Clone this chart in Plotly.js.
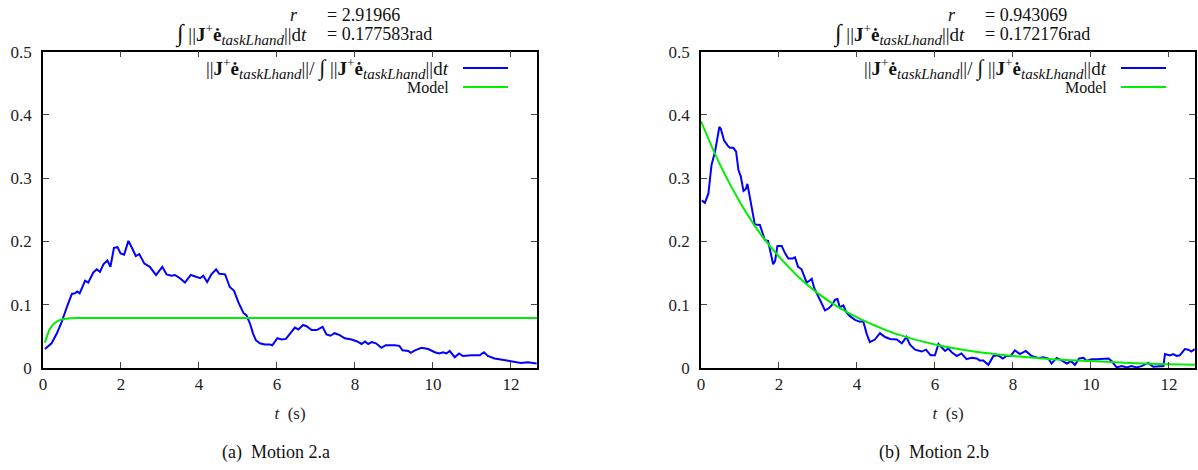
<!DOCTYPE html>
<html>
<head>
<meta charset="utf-8">
<script src="https://cdn.plot.ly/plotly-3.0.1.min.js"></script>
</head>
<body style="margin:0;background:#fff">
<div id="chart" style="width:1198px;height:470px"></div>
<script>
// ---- Data: Motion 2.a ----
const tA = [0.05,0.09,0.22,0.35,0.48,0.61,0.74,0.82,0.88,0.94,1.08,1.16,1.29,1.38,1.46,1.55,1.65,1.73,1.82,1.91,1.99,2.08,2.19,2.28,2.38,2.47,2.60,2.74,2.90,3.06,3.17,3.30,3.38,3.49,3.64,3.79,3.90,4.03,4.11,4.21,4.32,4.44,4.52,4.67,4.79,4.90,5.01,5.14,5.22,5.31,5.39,5.46,5.56,5.69,5.82,5.88,6.01,6.12,6.23,6.33,6.46,6.55,6.67,6.76,6.89,7.02,7.17,7.27,7.37,7.48,7.61,7.74,7.91,8.06,8.17,8.26,8.34,8.43,8.54,8.68,8.79,9.02,9.14,9.22,9.37,9.43,9.54,9.71,9.88,10.05,10.16,10.26,10.35,10.43,10.56,10.67,10.77,10.99,11.20,11.31,11.41,11.58,11.75,11.92,12.00,12.13,12.26,12.43,12.57,12.66];
const vA = [0.030,0.032,0.039,0.054,0.073,0.096,0.117,0.118,0.121,0.118,0.138,0.135,0.151,0.156,0.152,0.164,0.170,0.160,0.190,0.191,0.181,0.179,0.201,0.190,0.177,0.180,0.165,0.160,0.147,0.160,0.148,0.146,0.147,0.143,0.135,0.147,0.145,0.142,0.146,0.136,0.148,0.156,0.149,0.148,0.128,0.122,0.104,0.087,0.083,0.070,0.054,0.044,0.039,0.037,0.037,0.036,0.047,0.045,0.046,0.054,0.064,0.061,0.068,0.066,0.060,0.060,0.065,0.053,0.051,0.055,0.052,0.047,0.045,0.042,0.038,0.042,0.038,0.041,0.039,0.032,0.036,0.036,0.035,0.028,0.027,0.024,0.028,0.032,0.030,0.025,0.023,0.025,0.023,0.027,0.017,0.023,0.019,0.020,0.020,0.025,0.019,0.015,0.013,0.011,0.011,0.009,0.008,0.009,0.008,0.007];
const modelTA = [0.05,0.10,0.15,0.20,0.30,0.40,0.50,0.60,0.70,0.90,12.67];
const modelVA = [0.040,0.050,0.058,0.064,0.071,0.075,0.077,0.078,0.0785,0.079,0.079];

// ---- Data: Motion 2.b ----
const tB = [0.02,0.10,0.19,0.23,0.27,0.36,0.40,0.47,0.51,0.59,0.68,0.74,0.83,0.90,0.96,1.02,1.09,1.15,1.19,1.26,1.30,1.38,1.51,1.64,1.72,1.79,1.85,1.90,1.96,2.07,2.15,2.24,2.35,2.41,2.49,2.58,2.71,2.78,2.84,2.90,2.98,3.07,3.18,3.27,3.35,3.44,3.50,3.56,3.65,3.73,3.82,3.95,4.08,4.16,4.25,4.33,4.46,4.59,4.72,4.85,5.02,5.15,5.27,5.36,5.49,5.66,5.77,5.89,6.00,6.09,6.17,6.26,6.34,6.43,6.56,6.68,6.81,6.94,7.07,7.15,7.24,7.37,7.50,7.62,7.74,7.84,7.94,8.05,8.18,8.33,8.48,8.65,8.78,8.91,8.99,9.12,9.25,9.38,9.49,9.59,9.70,9.81,9.89,10.02,10.15,10.28,10.45,10.53,10.66,10.79,10.92,11.04,11.17,11.30,11.47,11.60,11.77,11.86,11.90,12.03,12.11,12.20,12.28,12.41,12.50,12.58,12.66];
const vB = [0.265,0.261,0.276,0.295,0.321,0.342,0.357,0.381,0.378,0.360,0.352,0.348,0.348,0.342,0.313,0.303,0.280,0.283,0.291,0.266,0.253,0.227,0.226,0.202,0.201,0.181,0.164,0.169,0.193,0.193,0.182,0.173,0.173,0.175,0.160,0.156,0.135,0.138,0.141,0.127,0.117,0.107,0.091,0.094,0.099,0.108,0.109,0.096,0.099,0.088,0.082,0.076,0.073,0.074,0.054,0.041,0.045,0.055,0.049,0.046,0.045,0.039,0.049,0.037,0.029,0.026,0.029,0.020,0.020,0.038,0.032,0.027,0.031,0.025,0.019,0.023,0.014,0.016,0.015,0.012,0.012,0.005,0.019,0.020,0.015,0.019,0.019,0.028,0.022,0.027,0.019,0.016,0.017,0.015,0.007,0.016,0.012,0.007,0.011,0.005,0.015,0.016,0.011,0.014,0.014,0.014,0.015,0.011,0.001,0.003,0.001,0.003,0.001,0.003,0.008,0.002,0.003,0.003,0.022,0.020,0.022,0.019,0.020,0.030,0.029,0.026,0.030];
const modelTB = [0,0.5,1,1.5,2,2.5,3,3.5,4,4.5,5,6,7,8,9,10,11,12,12.67];
const modelVB = [0.390,0.320,0.262,0.214,0.176,0.144,0.118,0.097,0.080,0.066,0.054,0.037,0.026,0.019,0.014,0.011,0.008,0.006,0.005];

// ---- Texts ----
const rA = '= 2.91966', intA = '= 0.177583rad';
const rB = '= 0.943069', intB = '= 0.172176rad';
const captionA = '(a)  Motion 2.a', captionB = '(b)  Motion 2.b';
const SUB = '<sub><span style="font-size:15px"><i>taskLhand</i></span></sub>';
const NORM = '||';
const intLabel = '<span style="font-size:24px">∫</span> ' + NORM + '<b>J</b><sup>+</sup><b>ė</b>' + SUB + NORM + 'd<i>t</i>';
const legendLabel = NORM + '<b>J</b><sup>+</sup><b>ė</b>' + SUB + NORM + '/ <span style="font-size:22px">∫</span> ' + NORM + '<b>J</b><sup>+</sup><b>ė</b>' + SUB + NORM + 'd<i>t</i>';
const modelLabel = 'Model';
const xTicks = [0,2,4,6,8,10,12];
const yTicks = [0,0.1,0.2,0.3,0.4,0.5];

const W = 1198, H = 470;
const px = x => x / W, py = y => (H - y) / H;
const BLUE = '#0000ff', GREEN = '#00ee00';
const FONT = 'Liberation Serif';

const traces = [
  {x: tA, y: vA, xaxis:'x', yaxis:'y', mode:'lines', line:{color:BLUE, width:2}, showlegend:false},
  {x: modelTA, y: modelVA, xaxis:'x', yaxis:'y', mode:'lines', line:{color:GREEN, width:2, shape:'spline'}, showlegend:false},
  {x: tB, y: vB, xaxis:'x2', yaxis:'y2', mode:'lines', line:{color:BLUE, width:2}, showlegend:false},
  {x: modelTB, y: modelVB, xaxis:'x2', yaxis:'y2', mode:'lines', line:{color:GREEN, width:2, shape:'spline'}, showlegend:false}
];

function xax(dom, anchor){
  return {domain: dom, anchor: anchor, range:[0,12.67], tickvals:xTicks, ticks:'inside', ticklen:6, tickwidth:1, tickcolor:'#444',
    showline:true, linecolor:'#000', linewidth:1.5, mirror:'allticks', zeroline:false, showgrid:false,
    tickfont:{family:FONT, size:17, color:'#222'}, automargin:false,
    title:{text:'<i>t</i>  (s)', font:{family:FONT, size:17, color:'#222'}, standoff:14}};
}
function yax(anchor){
  return {domain:[py(368), py(51.7)], anchor: anchor, range:[0,0.5], tickvals:yTicks, ticktext:['0','0.1','0.2','0.3','0.4','0.5'],
    ticks:'inside', ticklen:6, tickwidth:1, tickcolor:'#444', showline:true, linecolor:'#000', linewidth:1.5, mirror:'allticks',
    zeroline:false, showgrid:false, tickfont:{family:FONT, size:17, color:'#222'}, automargin:false, ticklabelstandoff:6};
}

const off = 658;
const annotations = [];
const shapes = [];
function addPanel(dx, rVal, intVal, caption){
  const f = {family:FONT, size:18, color:'#111'};
  annotations.push({xref:'paper', yref:'paper', x:px(300+dx), y:py(15), xanchor:'right', yanchor:'middle', text:'<i>r</i>', showarrow:false, font:f});
  annotations.push({xref:'paper', yref:'paper', x:px(325+dx), y:py(15), xanchor:'left', yanchor:'middle', text:rVal, showarrow:false, font:f});
  annotations.push({xref:'paper', yref:'paper', x:px(309+dx), y:py(34), xanchor:'right', yanchor:'middle', text:intLabel, showarrow:false, font:{family:FONT, size:19, color:'#111'}});
  annotations.push({xref:'paper', yref:'paper', x:px(325+dx), y:py(34), xanchor:'left', yanchor:'middle', text:intVal, showarrow:false, font:f});
  // legend
  annotations.push({xref:'paper', yref:'paper', x:px(451+dx), y:py(68), xanchor:'right', yanchor:'middle', text:legendLabel, showarrow:false, font:{family:FONT, size:19, color:'#111'}});
  annotations.push({xref:'paper', yref:'paper', x:px(451+dx), y:py(87), xanchor:'right', yanchor:'middle', text:modelLabel, showarrow:false, font:{family:FONT, size:16, color:'#111'}});
  shapes.push({type:'line', xref:'paper', yref:'paper', x0:px(463+dx), x1:px(508+dx), y0:py(68), y1:py(68), line:{color:BLUE, width:2}});
  shapes.push({type:'line', xref:'paper', yref:'paper', x0:px(463+dx), x1:px(508+dx), y0:py(87), y1:py(87), line:{color:GREEN, width:2}});
  // caption
  annotations.push({xref:'paper', yref:'paper', x:px(276+dx), y:py(452), xanchor:'center', yanchor:'middle', text:caption, showarrow:false, font:{family:FONT, size:18, color:'#111'}});
}
addPanel(0, rA, intA, captionA);
addPanel(off, rB, intB, captionB);

const layout = {
  width: W, height: H, margin:{l:0,r:0,t:0,b:0}, paper_bgcolor:'#fff', plot_bgcolor:'#fff', showlegend:false,
  font:{family:FONT},
  xaxis: xax([px(43), px(537)], 'y'),
  yaxis: yax('x'),
  xaxis2: xax([px(701), px(1195)], 'y2'),
  yaxis2: yax('x2'),
  annotations: annotations, shapes: shapes
};
Plotly.newPlot('chart', traces, layout, {displayModeBar:false});
</script>
</body>
</html>
